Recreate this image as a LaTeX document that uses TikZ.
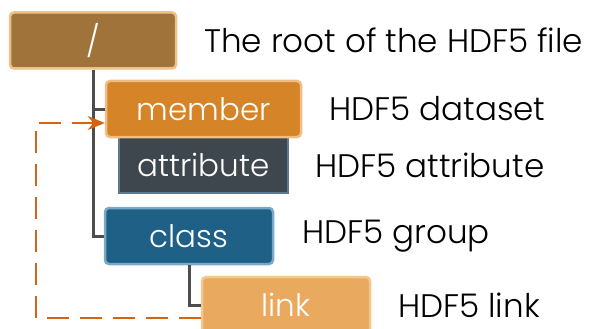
\documentclass[tikz,border=0pt]{standalone}
\usepackage{fontspec}
\setmainfont{Poppins}[UprightFont=* Light]
\usetikzlibrary{arrows.meta}

\definecolor{rootbrown}{RGB}{160,115,58}
\definecolor{rootedge}{RGB}{240,192,138}
\definecolor{memberorange}{RGB}{214,132,40}
\definecolor{memberedge}{RGB}{240,190,130}
\definecolor{attrgray}{RGB}{63,71,78}
\definecolor{attredge}{RGB}{95,122,143}
\definecolor{classblue}{RGB}{31,96,135}
\definecolor{classedge}{RGB}{122,168,200}
\definecolor{linkorange}{RGB}{233,169,94}
\definecolor{linkedge}{RGB}{243,199,144}
\definecolor{treegray}{RGB}{77,77,77}
\definecolor{dashorange}{RGB}{210,100,20}

\tikzset{
  box/.style={rectangle, rounded corners=4pt, line width=2.5pt, text=white,
    minimum height=56pt, inner sep=0pt, font=\fontsize{31}{36}\selectfont},
  label/.style={anchor=west, inner sep=0pt, font=\fontsize{32.6}{38}\selectfont},
  tree/.style={treegray, line width=3pt},
  linkarrow/.style={dashorange, line width=2.4pt, dash pattern=on 22pt off 11pt,
    -{Stealth[length=17pt,width=14pt]}}
}

\begin{document}
\begin{tikzpicture}[x=1pt,y=-1pt]
    \useasboundingbox (0,0) rectangle (589,329);

    \node[box, fill=rootbrown, draw=rootedge, minimum width=166pt] (root) at (93,40.5) {/};
    \node[box, fill=attrgray, draw=attredge, minimum width=169pt, rounded corners=0pt] (attribute) at (203.5,165) {attribute};
    \node[box, fill=memberorange, draw=memberedge, minimum width=195pt] (member) at (203.5,109) {member};
    \node[box, fill=classblue, draw=classedge, minimum width=168pt] (class) at (189,236) {class};
    \node[box, fill=linkorange, draw=linkedge, minimum width=168pt] (link) at (286,305) {link};

    \draw[tree] (root.south) |- (class.west);
    \draw[tree] (root.south |- member.west) -- (member.west);
    \draw[tree] (class.south) |- (link.west);

    \coordinate (loop) at (36,318);
    \draw[linkarrow] ([yshift=-13pt]link.west) -- (loop) |- ([yshift=-14pt]member.west);

    \node[label] (rootlabel) at (204,40.5) {The root of the HDF5 file};
    \node[label] (memberlabel) at (329,109) {HDF5 dataset};
    \node[label] (attrlabel) at (315,165) {HDF5 attribute};
    \node[label] (classlabel) at (302,236) {HDF5 group};
    \node[label] (linklabel) at (398,305) {HDF5 link};
\end{tikzpicture}
\end{document}
